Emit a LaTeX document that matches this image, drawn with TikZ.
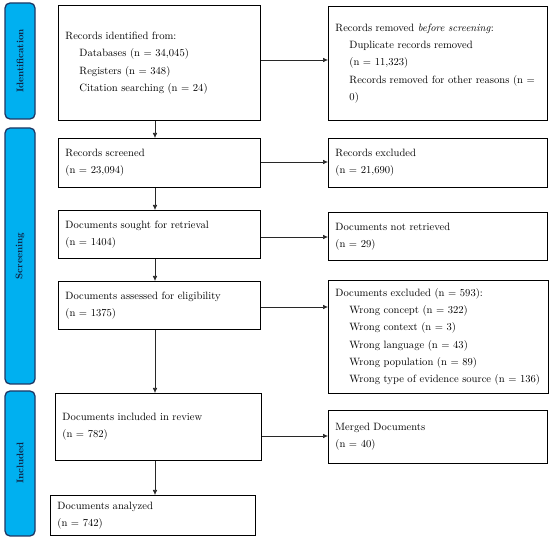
\documentclass[tikz,border=0pt]{standalone}
\usetikzlibrary{arrows.meta,calc}
\definecolor{barfill}{RGB}{0,176,240}
\definecolor{barline}{RGB}{31,56,100}
\definecolor{bartext}{RGB}{16,32,64}
\definecolor{arrowc}{RGB}{40,40,40}
\tikzset{
  flowbox/.style={draw=black, line width=0.9pt, fill=white, inner sep=0pt,
    align=left, font=\fontsize{10.6}{17.3}\selectfont},
  phasebar/.style={draw=barline, line width=1.3pt, fill=barfill, rounded corners=5pt},
  phaselabel/.style={rotate=90, font=\fontsize{9.6}{11}\selectfont\bfseries, text=bartext},
  flowarrow/.style={draw=arrowc, line width=0.6pt, -{Latex[length=5pt,width=4.5pt]}}
}
\newcommand{\mkbox}[6]{% name, x1, y1, x2, y2, text
  \node[flowbox, minimum width={#4-#2}, minimum height={#5-#3},
        text width={#4-#2-14}, anchor=north west] (#1) at (#2,#3) {#6};}
\newcommand{\ind}{\hspace*{14pt}}
\begin{document}
\begin{tikzpicture}[x=1pt, y=-1pt]
\useasboundingbox (0,0) rectangle (550,540);
% phase bars
\draw[phasebar] (5,3) rectangle (35,119);
\node[phaselabel] (lid) at (20,61) {Identification};
\draw[phasebar] (5,128) rectangle (35,384);
\node[phaselabel] (lsc) at (20,256) {Screening};
\draw[phasebar] (5,391) rectangle (35,536);
\node[phaselabel] (lin) at (20,463) {Included};
% boxes
\mkbox{idf}{58}{5}{260}{120}{Records identified from:\\\ind Databases (n = 34,045)\\\ind Registers (n = 348)\\\ind Citation searching (n = 24)}
\mkbox{rem}{328}{6}{547}{120}{Records removed \emph{before screening}:\\\ind Duplicate records removed\\\ind (n = 11,323)\\\ind Records removed for other reasons (n =\\\ind 0)}
\mkbox{scr}{58}{138}{260}{187}{Records screened\\(n = 23,094)}
\mkbox{exc}{328}{138}{547}{187}{Records excluded\\(n = 21,690)}
\mkbox{sou}{58}{210}{260}{258}{Documents sought for retrieval\\(n = 1404)}
\mkbox{ret}{328}{212}{547}{260}{Documents not retrieved\\(n = 29)}
\mkbox{ass}{58}{281}{260}{329}{Documents assessed for eligibility\\(n = 1375)}
\mkbox{exd}{328}{280}{548}{393}{Documents excluded (n = 593):\\\ind Wrong concept (n = 322)\\\ind Wrong context (n = 3)\\\ind Wrong language (n = 43)\\\ind Wrong population (n = 89)\\\ind Wrong type of evidence source (n = 136)}
\mkbox{inc}{55}{393}{261}{460}{Documents included in review\\(n = 782)}
\mkbox{mer}{328}{410}{547}{463}{Merged Documents\\(n = 40)}
\mkbox{ana}{50}{495}{255}{535}{Documents analyzed\\(n = 742)}
% vertical axis
\coordinate (ax) at (155,0);
\draw[flowarrow] (idf.south -| ax) -- (scr.north -| ax);
\draw[flowarrow] (scr.south -| ax) -- (sou.north -| ax);
\draw[flowarrow] (sou.south -| ax) -- (ass.north -| ax);
\draw[flowarrow] (ass.south -| ax) -- (inc.north -| ax);
\draw[flowarrow] (inc.south -| ax) -- (ana.north -| ax);
% horizontal
\coordinate (h1) at (0,60);
\coordinate (h2) at (0,162);
\coordinate (h3) at (0,237);
\coordinate (h4) at (0,307);
\coordinate (h5) at (0,436);
\draw[flowarrow] (idf.east |- h1) -- (rem.west |- h1);
\draw[flowarrow] (scr.east |- h2) -- (exc.west |- h2);
\draw[flowarrow] (sou.east |- h3) -- (ret.west |- h3);
\draw[flowarrow] (ass.east |- h4) -- (exd.west |- h4);
\draw[flowarrow] (inc.east |- h5) -- (mer.west |- h5);
\end{tikzpicture}
\end{document}
